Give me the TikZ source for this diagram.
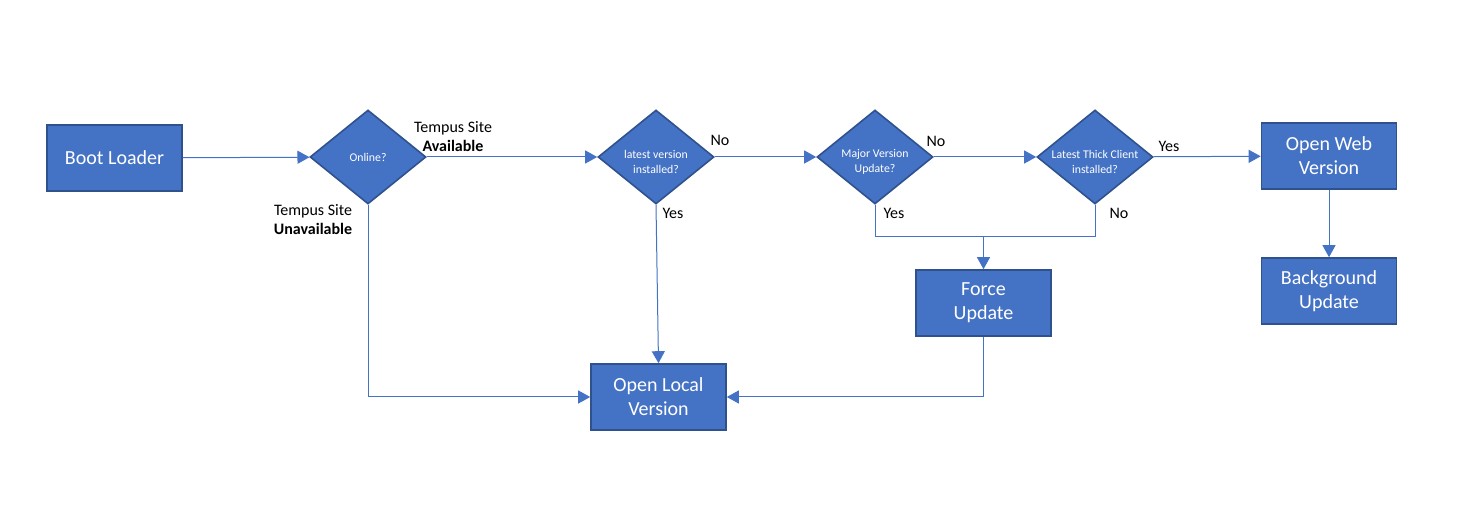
\documentclass[tikz,border=0pt]{standalone}
\usepackage{fontspec}
\setmainfont{Carlito}
\usetikzlibrary{shapes.geometric,arrows.meta,positioning}
\definecolor{boxblue}{HTML}{4472C4}
\definecolor{boxedge}{HTML}{2F528F}

\begin{document}
\begin{tikzpicture}[x=0.5pt, y=-0.5pt, >={Triangle[length=6pt,width=6.5pt]}, semithick]
\tikzset{
  process/.style={rectangle, fill=boxblue, draw=boxedge, line width=0.8pt, text=white,
    minimum width=67.5pt, minimum height=33pt, align=center, inner sep=1pt,
    font=\fontsize{10}{12}\selectfont},
  decision/.style={diamond, fill=boxblue, draw=boxedge, line width=0.8pt, text=white,
    minimum width=58pt, minimum height=47pt, aspect=1.23, inner sep=0pt, align=center,
    font=\fontsize{5.9}{7.5}\selectfont},
  qtext/.style={text=white, align=center, inner sep=0pt, yshift=-2.5pt,
    font=\fontsize{5.9}{7.5}\selectfont},
  link/.style={draw=boxblue, line width=0.5pt},
  tag/.style={text=black, align=center, inner sep=0pt, font=\fontsize{8}{9.5}\selectfont}
}
\useasboundingbox (0,0) rectangle (1466,507);

% boxes and questions
\node[process]  (boot)   at (114.5,158) {Boot Loader};
\node[decision] (online) at (368,157)   {Online?};
\node[decision, label={[qtext]center:{latest version\\installed?}}] (latest) at (656,157) {};
\node[decision, label={[qtext]center:{Major Version\\Update?}}] (major) at (875,157) {};
\node[decision, label={[qtext]center:{Latest Thick Client\\installed?}}] (thick) at (1095,157) {};
\node[process]  (web)    at (1329,156)  {Open Web\\Version};
\node[process]  (bg)     at (1329,291)  {Background\\Update};
\node[process]  (force)  at (983.5,303) {Force\\Update};
\node[process]  (local)  at (658.5,397) {Open Local\\Version};
\coordinate (merge) at (983.5,237);

% connectors
\draw[link,->] (boot) -- (online);
\draw[link,->] (online) -- (latest);
\draw[link,->] (online.south) |- (local.west);
\draw[link,->] (latest) -- (major);
\draw[link,->] (latest.south) -- (local.north);
\draw[link,->] (major) -- (thick);
\draw[link] (major.south) |- (merge);
\draw[link] (thick.south) |- (merge);
\draw[link,->] (merge) -- (force.north);
\draw[link,->] (thick) -- (web);
\draw[link,->] (web) -- (bg);
\draw[link,->] (force.south) |- (local.east);

% labels
\node[tag] (avail)   at (453,137)  {Tempus Site\\\textbf{Available}};
\node[tag] (unavail) at (313,220)  {Tempus Site\\\textbf{Unavailable}};
\node[tag] (latno)   at (720,140)  {No};
\node[tag] (latyes)  at (673,213)  {Yes};
\node[tag] (majno)   at (936,141)  {No};
\node[tag] (majyes)  at (894,213)  {Yes};
\node[tag] (thkno)   at (1119,213) {No};
\node[tag] (thkyes)  at (1169,146) {Yes};
\end{tikzpicture}
\end{document}
